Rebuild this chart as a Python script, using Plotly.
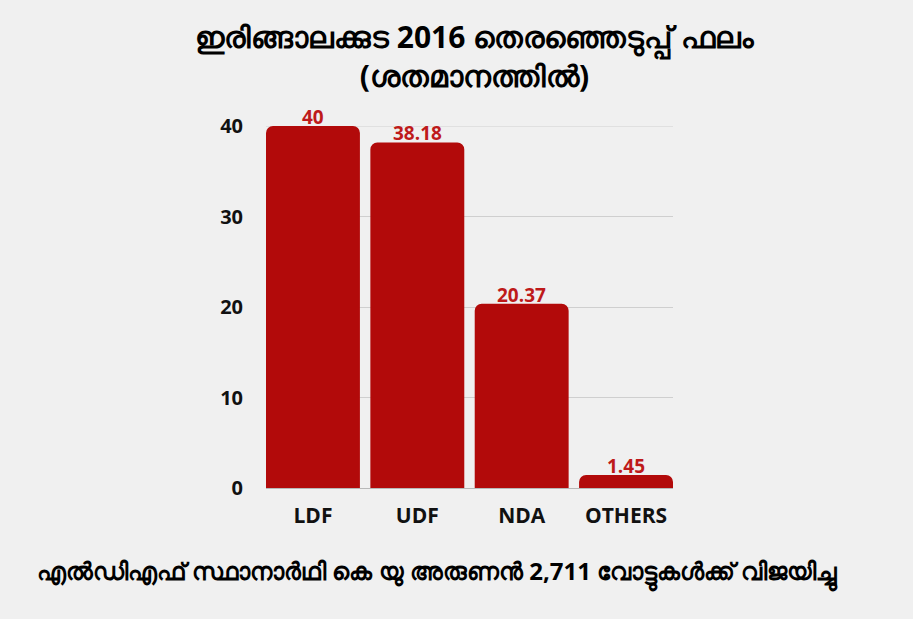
import plotly.graph_objects as go

categories = ["LDF", "UDF", "NDA", "OTHERS"]
values = [40, 38.18, 20.37, 1.45]
value_labels = ["40", "38.18", "20.37", "1.45"]
y_ticks = [0, 10, 20, 30, 40]

title_line1 = "ഇരിങ്ങാലക്കുട 2016 തെരഞ്ഞെടുപ്പ് ഫലം"
title_line2 = "(ശതമാനത്തിൽ)"
footer = "എൽഡിഎഫ് സ്ഥാനാർഥി കെ യു അരുണൻ 2,711 വോട്ടുകൾക്ക് വിജയിച്ചു"

bar_color = "#b20a0a"
label_color = "#be1a1a"
grid_color = "#cfcfcf"

W, H = 913, 619
ML, MR, MT, MB = 266, 240, 126, 131
plot_w = W - ML - MR
plot_h = H - MT - MB
BARGAP = 0.1

fig = go.Figure()
fig.add_trace(go.Bar(
    x=categories,
    y=values,
    marker=dict(color=bar_color, cornerradius=7, line=dict(width=0)),
    hoverinfo="skip",
))

annotations = []
for cat, val, lab in zip(categories, values, value_labels):
    annotations.append(dict(
        x=cat, y=val, xref="x", yref="y", text="<b>" + lab + "</b>",
        showarrow=False, yanchor="middle", xanchor="center", yshift=9,
        font=dict(family="Open Sans", size=19, color=label_color),
    ))

annotations.append(dict(
    text="<b>" + title_line1 + "</b><br><b>" + title_line2 + "</b>",
    x=(475 - ML) / plot_w, y=1 + MT / plot_h, xref="paper", yref="paper",
    yanchor="top", xanchor="center", yshift=-14, showarrow=False,
    font=dict(size=30, color="#000000"),
))
annotations.append(dict(
    text="<b>" + footer + "</b>",
    x=(437 - ML) / plot_w, y=-MB / plot_h, xref="paper", yref="paper",
    yanchor="middle", xanchor="center", yshift=46, showarrow=False,
    font=dict(size=24, color="#000000"),
))

fig.update_layout(
    width=W,
    height=H,
    paper_bgcolor="#f0f0f0",
    plot_bgcolor="rgba(0,0,0,0)",
    margin=dict(l=ML, r=MR, t=MT, b=MB),
    bargap=BARGAP,
    showlegend=False,
    font=dict(family="Open Sans", color="#111111"),
    xaxis=dict(
        range=[-0.5 + BARGAP / 2, len(categories) - 0.5 - BARGAP / 2],
        tickfont=dict(family="Open Sans", size=21, color="#111111", weight="bold"),
        showgrid=False,
        showline=False,
        ticks="outside",
        ticklen=9,
        tickcolor="rgba(0,0,0,0)",
    ),
    yaxis=dict(
        range=[0, 40],
        tickvals=y_ticks,
        tickfont=dict(family="Open Sans", size=20, color="#111111", weight="bold"),
        showgrid=True,
        gridcolor=grid_color,
        gridwidth=1,
        zeroline=True,
        zerolinecolor="#b8b8b8",
        zerolinewidth=1,
        ticks="outside",
        ticklen=18,
        tickcolor="rgba(0,0,0,0)",
    ),
    shapes=[dict(type="line", xref="paper", yref="y", x0=0, x1=1,
                 y0=y_ticks[-1], y1=y_ticks[-1], layer="below",
                 line=dict(color=grid_color, width=1))],
    annotations=annotations,
)

fig.write_html("out.html", config={"displayModeBar": False},
               post_script="document.body.style.margin='0';")
